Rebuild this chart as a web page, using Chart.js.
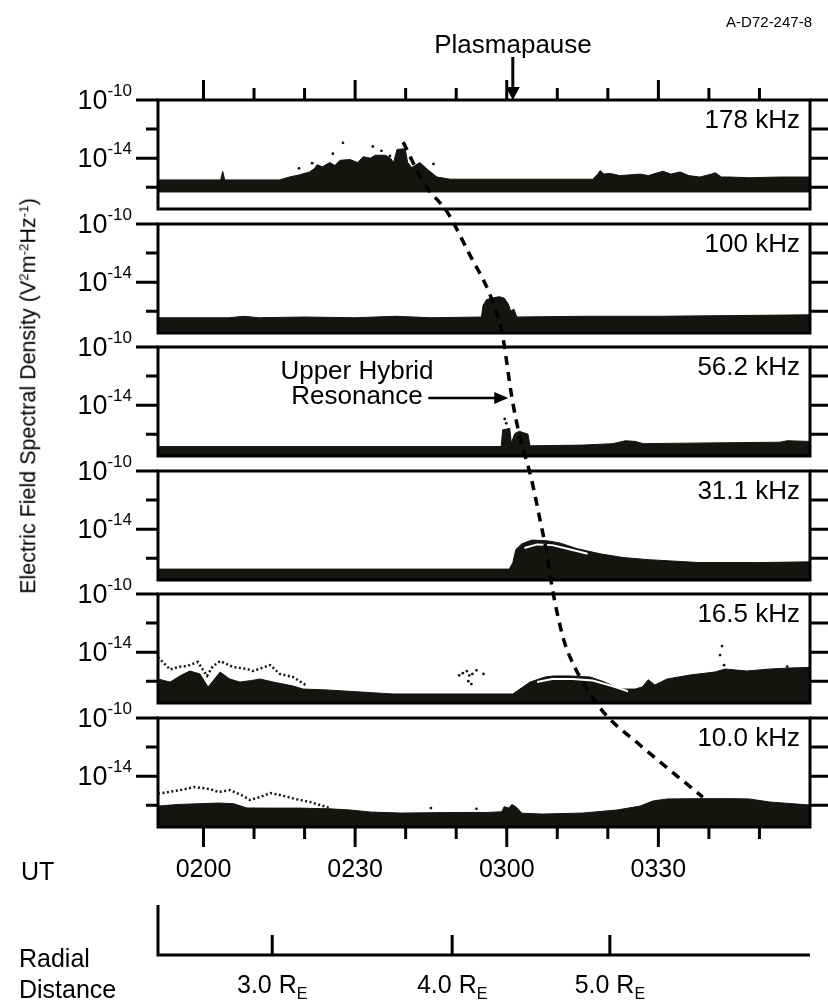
<!DOCTYPE html>
<html>
<head>
<meta charset="utf-8">
<title>Electric Field Spectral Density</title>
<script src="https://cdn.jsdelivr.net/npm/chart.js@4.4.1/dist/chart.umd.min.js"></script>
<style>
  body { margin: 0; background: #fff; }
  #page { position: relative; width: 828px; height: 1002px; overflow: hidden;
          font-family: "Liberation Sans", Arial, sans-serif; color: #000; }
  #page canvas { position: absolute; left: 0; }
  .txt { position: absolute; white-space: nowrap; line-height: 1; z-index: 3; }
  .txt sup { font-size: 0.62em; vertical-align: 0; position: relative; top: -0.55em; line-height: 0; }
</style>
</head>
<body>
<div id="page">
  <div class="txt" style="right:16px; top:14px; font-size:15px;">A-D72-247-8</div>
  <div class="txt" style="left:413px; width:200px; text-align:center; top:31px; font-size:26px;">Plasmapause</div>
  <div class="txt" style="left:257px; width:200px; text-align:center; top:358px; font-size:26px; line-height:25px;">Upper Hybrid<br>Resonance</div>
  <div class="txt" style="left:29px; top:396px; font-size:21.5px; transform:translate(-50%,-50%) rotate(-90deg);">Electric Field Spectral Density (V<sup>2</sup>m<sup>-2</sup>Hz<sup>-1</sup>)</div>
  <div class="txt" style="left:21px; top:859px; font-size:25px;">UT</div>
  <div class="txt" style="left:19px; top:943px; font-size:25px; line-height:31px;">Radial<br>Distance</div>
</div>
<script>
"use strict";

// UT axis, minutes after 0000 UT
const utMin = 111;
const utMax = 240;
const utMajorTicks = [120, 150, 180, 210];
const utMajorLabels = ["0200", "0230", "0300", "0330"];
const utMinorTicks = [130, 140, 160, 170, 190, 200, 220, 230];

// Spectral density axis, log10 of V^2 m^-2 Hz^-1
const densityMin = -17.5;
const densityMax = -10;
const densityMajorTicks = [-10, -14];
const densityMinorTicks = [-12, -16];

const channels = ["178 kHz", "100 kHz", "56.2 kHz", "31.1 kHz", "16.5 kHz", "10.0 kHz"];

// Upper edge of the recorded intensity, [UT minutes, log10 density]
const top178 = [[111,-15.5],[123.4,-15.5],[123.8,-14.9],[124.2,-15.5],[135,-15.5],[137,-15.3],
    [139,-15.15],[141,-14.95],[142,-14.7],[142.5,-14.45],[143.5,-14.6],[145,-14.3],[146,-14.5],[147,-14.15],[149,-14.1],[150.5,-14.3],
    [151.6,-13.9],[153,-14.0],[154,-13.8],[156,-13.8],[157,-14.0],[157.6,-14.3],[158.3,-13.4],[159.9,-13.35],[160.4,-14.3],[161.2,-14.65],
    [162.8,-14.3],[164.4,-14.8],[166.2,-15.3],[168.8,-15.45],[197,-15.45],[198,-15.1],[198.5,-14.85],[199.2,-15.1],
    [200.4,-15.05],[202.4,-15.2],[204.5,-15.15],[206.4,-15.1],[208,-15.2],[210.9,-14.9],[212.5,-15.1],[214.3,-14.95],
    [216,-15.2],[218.2,-15.3],[220.5,-15.1],[221.2,-15.0],[222.5,-15.3],[224.2,-15.3],[228,-15.35],[234,-15.3],[240,-15.3]];
const bottom178 = [[111,-16.33],[240,-16.33]];
const dots178 = [[138.9,-14.7],[141.5,-14.35],[145.6,-13.7],[147.6,-12.95],[153.5,-13.2],[155.2,-13.5],[156.9,-13.85],[165.5,-14.4]];

const top100 = [[111,-16.45],[125,-16.45],[128,-16.35],[131,-16.45],[140,-16.4],[150,-16.45],[158,-16.35],[165,-16.45],
    [175,-16.4],[175.3,-15.6],[176,-15.2],[177,-15.1],[178.5,-15.0],[179.5,-15.1],[180.3,-15.5],[180.8,-16.0],[181.4,-15.85],
    [182,-16.4],[195,-16.35],[210,-16.35],[225,-16.3],[240,-16.25]];

const top56 = [[111,-16.85],[150,-16.85],[178.9,-16.85],[179.2,-15.7],[180.6,-15.6],[180.9,-16.6],[181.6,-15.95],[182.5,-15.8],
    [184.2,-16.0],[184.6,-16.8],[195,-16.75],[201,-16.65],[203.5,-16.45],[205.5,-16.5],[207,-16.65],[220,-16.6],[234,-16.55],
    [235.5,-16.45],[240,-16.5]];
const dots56 = [[179.6,-14.95],[179.9,-15.25]];

const top31 = [[111,-16.75],[150,-16.75],[180.5,-16.75],[181.2,-16.3],[181.8,-15.4],[183,-15.0],[185,-14.75],[188,-14.8],
    [190.5,-14.95],[194,-15.35],[198.5,-15.7],[203,-15.95],[208,-16.1],[218,-16.3],[230,-16.3],[240,-16.25]];
const gap31 = [[183.5,-15.3],[186,-15.05],[189,-15.1],[192,-15.35],[196,-15.7]];

const top16 = [[111,-15.85],[113.4,-16.06],[115.5,-15.6],[117.3,-15.3],[119.3,-15.5],[120.9,-16.4],[123.3,-15.37],[125.2,-15.85],
    [127.2,-16.06],[129.5,-15.95],[131.2,-15.85],[133.8,-16.06],[137.7,-16.33],[139.7,-16.54],[144.4,-16.6],[151,-16.74],
    [157.5,-16.88],[181.2,-16.88],[182.6,-16.54],[184.6,-16.06],[187.6,-15.71],[189.2,-15.64],[192.5,-15.64],[196.5,-15.71],
    [199.4,-16.06],[202.4,-16.54],[205.4,-16.54],[206.8,-16.4],[208,-15.9],[209.3,-16.26],[211.7,-15.85],[216.3,-15.57],
    [221.2,-15.37],[223.2,-15.16],[227.5,-15.3],[232.1,-15.16],[236,-15.09],[240,-15.05]];
const edge16 = [[111,-14.34],[113.4,-15.2],[115.2,-15.0],[116.7,-14.96],[118.9,-14.68],[120.7,-15.64],[121.8,-15.0],
    [123.3,-14.61],[125.8,-15.02],[128.6,-15.16],[129.8,-15.3],[133.2,-14.89],[135.1,-15.5],[137.7,-15.71],[140.5,-16.33]];
const gap16 = [[186,-16.05],[189,-15.85],[193,-15.85],[197,-15.95],[201,-16.35],[204,-16.7]];
const dots16 = [[170.6,-15.6],[171.3,-15.45],[172.1,-15.3],[172.6,-15.6],[173.2,-15.5],[174,-15.25],[172.4,-16.0],
    [173,-16.2],[175.4,-15.5],[222.6,-13.58],[222.2,-14.2],[223,-14.9],[235.5,-15.0]];

const top10 = [[111,-16.06],[115,-15.95],[119,-15.9],[123,-15.85],[126,-15.9],[128.6,-16.19],[133,-16.2],[139,-16.2],
    [145,-16.25],[149,-16.33],[153,-16.47],[159,-16.54],[170,-16.5],[176,-16.5],[179,-16.45],[179.5,-16.1],[180.4,-16.2],
    [181,-15.95],[181.8,-16.1],[183,-16.55],[187,-16.61],[195,-16.54],[201.8,-16.33],[206.4,-16.06],[208.9,-15.71],
    [211.7,-15.57],[218,-15.55],[225,-15.55],[228,-15.57],[232,-15.78],[240,-15.99]];
const edge10 = [[111,-15.2],[113,-15.1],[115.4,-14.96],[118.3,-14.75],[121.3,-14.89],[123,-15.1],[125.2,-14.96],[127.5,-15.3],
    [129.2,-15.64],[131.2,-15.44],[133.2,-15.16],[135.1,-15.3],[138.1,-15.57],[141.1,-15.78],[145,-16.19]];
const dots10 = [[165,-16.2],[174,-16.25]];

// Upper hybrid resonance frequency (kHz) through the channels
const uhrTime = [159.5, 163.8, 168.2, 172.7, 176.7, 179.1, 179.5, 181, 182.6, 184.8, 186.6, 188, 189, 191.1, 192.5, 196.5, 199.4, 206.4, 212.3, 218.8];
const uhrFreq = [189, 155, 136.6, 111.8, 92.8, 77.7, 73.5, 57.7, 47.9, 39.7, 32.5, 27.6, 23.7, 18.9, 17.2, 14.5, 13.2, 11.4, 10.15, 8.95];

const plasmapauseTime = 181.2;
const uhrArrowTip = [180.3, 57.4];

// Radial distance (Earth radii) against UT
const radialValues = ["3.0", "4.0", "5.0"];
const radialTimes = [133.6, 169.2, 200.4];

// Layout
const pageW = 828;
const pageH = 1002;
const plotLeft = 158;
const plotRight = 810;
const panelTops = [100, 224, 347, 471, 594, 718];
const panelH = 109;
const freqTop = 230;     // log frequency scale matching the panel stack
const freqBottom = 7.79;

const ink = "#141411";
const fontFamily = '"Liberation Sans", Arial, sans-serif';

const panelData = [
    { top: top178, bottom: bottom178, dots: dots178 },
    { top: top100 },
    { top: top56, dots: dots56 },
    { top: top31, gap: gap31 },
    { top: top16, edge: edge16, gap: gap16, dots: dots16 },
    { top: top10, edge: edge10, dots: dots10 }
];

Chart.defaults.font.family = fontFamily;
Chart.defaults.color = "#000";

const page = document.getElementById("page");

function xy(pairs) {
    return pairs.map((p) => ({ x: p[0], y: p[1] }));
}

function addCanvas(top, height) {
    const c = document.createElement("canvas");
    c.width = pageW;
    c.height = height;
    c.style.top = top + "px";
    page.appendChild(c);
    return c;
}

// Frame, tick marks and tick labels of one channel panel
function framePlugin(i) {
    return {
        id: "frame" + i,
        afterDraw(chart) {
            const ctx = chart.ctx;
            const a = chart.chartArea;
            const x = chart.scales.x;
            const y = chart.scales.y;

            ctx.save();
            ctx.strokeStyle = "#000";
            ctx.lineWidth = 3;
            ctx.strokeRect(a.left, a.top, a.right - a.left, a.bottom - a.top);

            ctx.beginPath();
            densityMajorTicks.concat(densityMinorTicks).forEach((v) => {
                const py = y.getPixelForValue(v);
                const len = densityMajorTicks.includes(v) ? 22 : 12;
                ctx.moveTo(a.left - len, py);
                ctx.lineTo(a.left, py);
                ctx.moveTo(a.right, py);
                ctx.lineTo(pageW, py);
            });

            // UT ticks only on the outer edges of the stack
            if (i === 0 || i === channels.length - 1) {
                const edge = (i === 0) ? a.top : a.bottom;
                const dir = (i === 0) ? -1 : 1;
                utMajorTicks.forEach((v) => {
                    const px = x.getPixelForValue(v);
                    ctx.moveTo(px, edge);
                    ctx.lineTo(px, edge + dir * 20);
                });
                utMinorTicks.forEach((v) => {
                    const px = x.getPixelForValue(v);
                    ctx.moveTo(px, edge);
                    ctx.lineTo(px, edge + dir * 12);
                });
            }
            ctx.stroke();

            // 10^n labels
            ctx.fillStyle = "#000";
            ctx.textBaseline = "alphabetic";
            densityMajorTicks.forEach((v) => {
                const py = y.getPixelForValue(v);
                const exp = String(v);
                ctx.font = "17px " + fontFamily;
                const w = ctx.measureText(exp).width;
                const sx = a.left - 26 - w;
                ctx.textAlign = "left";
                ctx.fillText(exp, sx, py - 4);
                ctx.font = "27px " + fontFamily;
                ctx.textAlign = "right";
                ctx.fillText("10", sx, py + 9);
            });

            ctx.font = "26px " + fontFamily;
            ctx.textAlign = "right";
            ctx.fillText(channels[i], a.right - 10, a.top + 28);
            ctx.restore();
        }
    };
}

function makePanel(i) {
    const p = panelData[i];
    const isBottom = (i === channels.length - 1);
    const padTop = 40;
    const padBottom = isBottom ? 0 : 20;
    const axisH = isBottom ? 62 : 0;
    const canvas = addCanvas(panelTops[i] - padTop, padTop + panelH + padBottom + axisH);

    const datasets = [{
        data: xy(p.top),
        borderColor: ink,
        backgroundColor: ink,
        borderWidth: 1,
        fill: p.bottom ? 1 : "start",
        order: 5
    }];
    if (p.bottom) {
        datasets.push({ data: xy(p.bottom), borderColor: ink, borderWidth: 1, fill: false, order: 5 });
    }
    if (p.edge) {
        datasets.push({ data: xy(p.edge), borderColor: ink, borderWidth: 2.5, borderDash: [2, 2.5], fill: false, order: 2 });
    }
    if (p.gap) {
        datasets.push({ data: xy(p.gap), borderColor: "#ffffff", borderWidth: 2, fill: false, order: 1 });
    }
    if (p.dots) {
        datasets.push({ type: "scatter", data: xy(p.dots), pointRadius: 1.4, pointBorderWidth: 0,
            pointBackgroundColor: ink, showLine: false, order: 0 });
    }

    new Chart(canvas, {
        type: "line",
        data: { datasets: datasets },
        options: {
            responsive: false,
            animation: false,
            events: [],
            layout: { padding: { left: plotLeft, right: pageW - plotRight, top: padTop, bottom: padBottom } },
            elements: { point: { radius: 0 }, line: { tension: 0 } },
            plugins: { legend: { display: false }, tooltip: { enabled: false } },
            scales: {
                x: {
                    type: "linear",
                    min: utMin,
                    max: utMax,
                    display: isBottom,
                    position: "bottom",
                    grid: { display: false, drawTicks: false },
                    border: { display: false },
                    afterBuildTicks: (s) => { s.ticks = utMajorTicks.map((v) => ({ value: v })); },
                    afterFit: (s) => { s.height = axisH; },
                    ticks: {
                        autoSkip: false,
                        maxRotation: 0,
                        padding: 28,
                        color: "#000",
                        font: { size: 25 },
                        callback: (v) => utMajorLabels[utMajorTicks.indexOf(v)] || ""
                    }
                },
                y: { type: "linear", min: densityMin, max: densityMax, display: false }
            }
        },
        plugins: [framePlugin(i)]
    });
}

// Arrows and the radial distance axis, drawn over the stack
const overlayPlugin = {
    id: "overlay",
    afterDraw(chart) {
        const ctx = chart.ctx;
        const a = chart.chartArea;
        const x = chart.scales.x;
        const y = chart.scales.y;

        ctx.save();
        ctx.strokeStyle = "#000";
        ctx.fillStyle = "#000";
        ctx.lineWidth = 3;

        // Plasmapause arrow
        const pp = x.getPixelForValue(plasmapauseTime);
        ctx.beginPath();
        ctx.moveTo(pp, 57);
        ctx.lineTo(pp, a.top - 10);
        ctx.stroke();
        ctx.beginPath();
        ctx.moveTo(pp - 7, a.top - 13);
        ctx.lineTo(pp + 7, a.top - 13);
        ctx.lineTo(pp, a.top);
        ctx.closePath();
        ctx.fill();

        // Upper hybrid resonance arrow
        const tx = x.getPixelForValue(uhrArrowTip[0]);
        const ty = y.getPixelForValue(uhrArrowTip[1]);
        ctx.lineWidth = 2.5;
        ctx.beginPath();
        ctx.moveTo(tx - 80, ty);
        ctx.lineTo(tx - 12, ty);
        ctx.stroke();
        ctx.beginPath();
        ctx.moveTo(tx - 14, ty - 6);
        ctx.lineTo(tx - 14, ty + 6);
        ctx.lineTo(tx, ty);
        ctx.closePath();
        ctx.fill();

        // Radial distance axis
        const axisY = 955;
        ctx.lineWidth = 3;
        ctx.beginPath();
        ctx.moveTo(a.left, 905);
        ctx.lineTo(a.left, axisY);
        ctx.lineTo(a.right, axisY);
        radialTimes.forEach((t) => {
            const px = x.getPixelForValue(t);
            ctx.moveTo(px, axisY - 20);
            ctx.lineTo(px, axisY);
        });
        ctx.stroke();

        ctx.textBaseline = "alphabetic";
        ctx.textAlign = "left";
        radialTimes.forEach((t, k) => {
            const px = x.getPixelForValue(t);
            const main = radialValues[k] + " R";
            ctx.font = "25px " + fontFamily;
            const w = ctx.measureText(main).width;
            ctx.font = "16px " + fontFamily;
            const w2 = ctx.measureText("E").width;
            const sx = px - (w + w2) / 2;
            ctx.font = "25px " + fontFamily;
            ctx.fillText(main, sx, 993);
            ctx.font = "16px " + fontFamily;
            ctx.fillText("E", sx + w, 999);
        });
        ctx.restore();
    }
};

function makeOverlay() {
    const canvas = addCanvas(0, pageH);
    canvas.style.zIndex = 2;
    const stackBottom = panelTops[panelTops.length - 1] + panelH;

    new Chart(canvas, {
        type: "line",
        data: {
            datasets: [{
                label: "Upper Hybrid Resonance",
                data: uhrTime.map((t, k) => ({ x: t, y: uhrFreq[k] })),
                borderColor: "#000",
                borderWidth: 3.5,
                borderDash: [9, 7],
                pointRadius: 0,
                fill: false,
                cubicInterpolationMode: "monotone"
            }]
        },
        options: {
            responsive: false,
            animation: false,
            events: [],
            layout: { padding: { left: plotLeft, right: pageW - plotRight, top: panelTops[0], bottom: pageH - stackBottom } },
            plugins: { legend: { display: false }, tooltip: { enabled: false } },
            scales: {
                x: { type: "linear", min: utMin, max: utMax, display: false },
                y: { type: "logarithmic", min: freqBottom, max: freqTop, display: false }
            }
        },
        plugins: [overlayPlugin]
    });
}

for (let i = 0; i < channels.length; i++) {
    makePanel(i);
}
makeOverlay();
</script>
</body>
</html>
